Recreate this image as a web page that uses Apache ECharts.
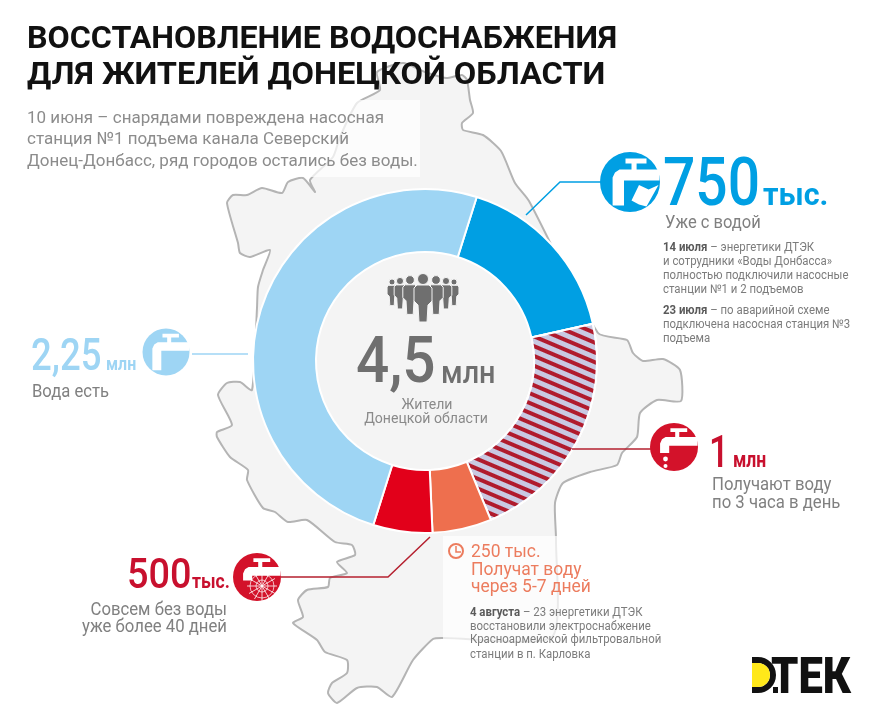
<!DOCTYPE html>
<html>
<head>
<meta charset="utf-8">
<script src="https://cdn.jsdelivr.net/npm/echarts@6/dist/echarts.min.js"></script>
<style>
html, body { margin: 0; padding: 0; background: #fff; }
#main { width: 869px; height: 714px; }
</style>
</head>
<body>
<div id="main"></div>
<script>
var sliceNames = ['Уже с водой', 'Получают воду по 3 часа в день', 'Получат воду через 5-7 дней', 'Совсем без воды', 'Вода есть'];
var sliceValues = [750, 1000, 250, 250, 2250];
var sliceColors = ['#009fe3', '#c9c9e2', '#ee6f4e', '#e2001a', '#9ed5f4'];

var titleLines = ['ВОССТАНОВЛЕНИЕ ВОДОСНАБЖЕНИЯ', 'ДЛЯ ЖИТЕЛЕЙ ДОНЕЦКОЙ ОБЛАСТИ'];
var introLines = ['10 июня – снарядами повреждена насосная', 'станция №1 подъема канала Северский', 'Донец-Донбасс, ряд городов остались без воды.'];
var noteJuly14 = ['{b|14 июля} – энергетики ДТЭК', 'и сотрудники «Воды Донбасса»', 'полностью подключили насосные', 'станции №1 и 2 подъемов'];
var noteJuly23 = ['{b|23 июля} – по аварийной схеме', 'подключена насосная станция №3', 'подъема'];
var noteAugust = ['{b|4 августа} – 23 энергетики ДТЭК', 'восстановили электроснабжение', 'Красноармейской фильтровальной', 'станции в п. Карловка'];
var orangeLines = ['250 тыс.', 'Получат воду', 'через 5-7 дней'];

var FONT = 'Roboto';
var BLUE = '#009fe3', SKY = '#9ed5f4', RED = '#c8102e', ORANGE = '#ec7c5e', GREY = '#808080', NOTE = '#7c7c7c';
var noteStyle = { scaleX: 0.95, rich: { b: { fontFamily: FONT, fontSize: 12, fontWeight: 700, fill: '#5a5a5a' } } };

function label(x, y, str, size, color, weight, align, extra) {
    var el = {
        type: 'text', x: x, y: y - size * 0.25, z: 20, silent: true,
        style: {
            text: str, fontFamily: FONT, fontSize: size, fontWeight: weight || 400,
            fill: color, textAlign: align || 'left', textVerticalAlign: 'middle'
        }
    };
    if (extra && extra.rich) el.style.rich = extra.rich;
    if (extra && extra.scaleX) el.scaleX = extra.scaleX;
    return el;
}
function lines(x, ys, strs, size, color, weight, align, extra) {
    return strs.map(function (s, i) { return label(x, ys[i], s, size, color, weight, align, extra); });
}
function leader(points, color) {
    return { type: 'polyline', z: 5, silent: true, shape: { points: points }, style: { stroke: color, lineWidth: 1.5, fill: null } };
}
// shape given in units of the icon radius
function glyph(cx, cy, r, pts, fill) {
    return {
        type: 'polygon', z: 11, silent: true,
        shape: { points: pts.map(function (p) { return [cx + p[0] * r, cy + p[1] * r]; }) },
        style: { fill: fill }
    };
}
function faucet(cx, cy, r, color, spoutEnd) {
    var pts = [[-0.15, -0.78], [0.55, -0.78], [0.55, -0.62], [0.22, -0.62], [0.22, -0.42], [0.98, -0.42], [0.98, -0.05],
        [-0.2, -0.05], [-0.2, spoutEnd], [-0.58, spoutEnd], [-0.58, -0.15], [-0.5, -0.32], [-0.35, -0.42], [0.05, -0.42], [0.05, -0.62], [-0.15, -0.62]];
    return [
        { type: 'circle', z: 10, silent: true, shape: { cx: cx, cy: cy, r: r }, style: { fill: color } },
        glyph(cx, cy, r, pts, '#fff')
    ];
}
function dot(cx, cy, r, fill) {
    return { type: 'circle', z: 12, silent: true, shape: { cx: cx, cy: cy, r: r }, style: { fill: fill } };
}
function web(cx, cy, r) {
    var out = [];
    for (var a = 0; a < 180; a += 30) {
        var dx = Math.cos(a * Math.PI / 180) * r, dy = Math.sin(a * Math.PI / 180) * r;
        out.push({ type: 'line', z: 12, silent: true, shape: { x1: cx - dx, y1: cy - dy, x2: cx + dx, y2: cy + dy }, style: { stroke: '#fff', lineWidth: 0.8 } });
    }
    [0.4, 0.8].forEach(function (k) {
        out.push({ type: 'circle', z: 12, silent: true, shape: { cx: cx, cy: cy, r: r * k }, style: { fill: 'none', stroke: '#fff', lineWidth: 0.7 } });
    });
    return out;
}

// region outline, drawn behind the ring
var outline = [[467,80],[470,100],[473,113],[462,123],[463,130],[483,135],[501,151],[515,183],[529,201],
    [598,333],[627,340],[633,353],[643,361],[663,359],[680,370],[681,401],[657,400],[640,413],[637,437],[622,453],
    [617,465],[590,472],[563,483],[555,503],[556,540],[552,637],[443,638],[433,639],[413,660],[392,697],[377,687],
    [357,688],[337,703],[328,693],[332,683],[347,673],[347,660],[325,652],[317,640],[293,623],[303,617],[298,600],
    [307,590],[328,587],[330,578],[347,573],[337,562],[355,555],[352,545],[335,542],[307,520],[288,522],[275,512],
    [263,508],[247,480],[248,470],[230,457],[217,437],[217,432],[232,425],[218,395],[227,383],[240,382],[252,390],
    [257,308],[258,287],[263,270],[270,250],[250,257],[240,253],[238,243],[227,203],[233,195],[247,195],[262,188],
    [282,193],[288,182],[303,178],[315,192],[310,180],[333,157],[340,137],[357,103],[380,90],[377,72],[403,63],
    [425,72],[446,78],[462,75]];

var graphics = [
    { type: 'polygon', z: 0, silent: true, shape: { points: outline, smooth: 0.2 }, style: { fill: '#f4f4f4', stroke: '#b4b4b4', lineWidth: 2 } },
    { type: 'rect', z: 1, silent: true, shape: { x: 20, y: 100, width: 400, height: 77 }, style: { fill: 'rgba(255,255,255,0.72)' } },
    { type: 'rect', z: 1, silent: true, shape: { x: 443, y: 536, width: 230, height: 130 }, style: { fill: 'rgba(255,255,255,0.72)' } },
    leader([[604, 182], [560, 182], [526, 215]], BLUE),
    leader([[192, 354], [248, 354]], SKY),
    leader([[572, 449], [652, 449]], '#b5202f'),
    leader([[281, 577], [388, 577], [430, 537]], '#b5202f')
];

graphics = graphics.concat(
    label(27, 48, titleLines[0], 32.2, '#111', 700),
    label(27, 84, titleLines[1], 32.2, '#111', 700, 'left', { scaleX: 1.012 }),
    lines(27, [123, 144, 166], introLines, 17, '#8c8c8c', 400),

    // 750 тыс.
    faucet(630, 182, 30, BLUE, 0.78),
    [glyph(630, 182, 30, [[0.05, 0.62], [0.3, 0.1], [0.62, 0.25], [0.95, 0.1], [0.55, 0.82], [0.3, 0.75]], '#fff')],
    [label(663, 205, '750', 67, BLUE, 500, 'left', { scaleX: 0.85 }), label(763, 205, 'тыс.', 32, BLUE, 700, 'left', { scaleX: 0.95 }),
     label(665, 228, sliceNames[0], 19, GREY, 400, 'left', { scaleX: 0.87 })],
    lines(663, [251, 265, 279, 293], noteJuly14, 12, NOTE, 400, 'left', noteStyle),
    lines(663, [314, 328, 342], noteJuly23, 12, NOTE, 400, 'left', noteStyle),

    // 2,25 млн
    faucet(166, 352, 23.5, SKY, 0.78),
    [label(31, 370, '2,25', 44, SKY, 500, 'left', { scaleX: 0.83 }), label(106, 370, 'млн', 19, SKY, 700, 'left', { scaleX: 0.84 }),
     label(32, 397, sliceNames[4], 19, GREY, 400, 'left', { scaleX: 0.875 })],

    // 1 млн
    faucet(674, 447, 24, '#d3122a', 0.25),
    [dot(665.5, 459, 2.4, '#fff'), dot(665.5, 466, 2, '#fff')],
    [label(709, 467, '1', 44, RED, 500, 'left', { scaleX: 0.8 }), label(733, 467, 'млн', 22, RED, 700, 'left', { scaleX: 0.8 }),
     lines(712, [490, 508], ['Получают воду', 'по 3 часа в день'], 19, GREY, 400, 'left', { scaleX: 0.88 })[0],
     lines(712, [490, 508], ['Получают воду', 'по 3 часа в день'], 19, GREY, 400, 'left', { scaleX: 0.88 })[1]],

    // 500 тыс.
    faucet(257, 577, 24, '#d3122a', 0.15),
    web(262, 586, 15),
    [label(127, 588, '500', 42, RED, 500, 'left', { scaleX: 0.9 }), label(192, 588, 'тыс.', 20, RED, 700, 'left', { scaleX: 0.88 }),
     label(227, 615, 'Совсем без воды', 19, GREY, 400, 'right', { scaleX: 0.88 }), label(227, 632, 'уже более 40 дней', 19, GREY, 400, 'right', { scaleX: 0.88 })],

    // 250 тыс.
    [{ type: 'circle', z: 12, silent: true, shape: { cx: 456, cy: 551, r: 7 }, style: { fill: 'none', stroke: ORANGE, lineWidth: 2 } },
     { type: 'polyline', z: 12, silent: true, shape: { points: [[456, 546], [456, 552], [461, 552]] }, style: { fill: null, stroke: ORANGE, lineWidth: 1.5 } }],
    lines(471, [557, 575, 592], orangeLines, 19, ORANGE, 400, 'left', { scaleX: 0.92 }),
    lines(470, [616, 630, 643, 658], noteAugust, 12, NOTE, 400, 'left', noteStyle),

    // centre
    [label(356, 382, '4,5', 65, '#6f6f6f', 500, 'left', { scaleX: 0.9 }), label(441, 383, 'млн', 32, '#6f6f6f', 500, 'left', { scaleX: 0.9 }),
     label(427, 409, 'Жители', 15, '#8a8a8a', 400, 'center', { scaleX: 0.94 }), label(426, 423, 'Донецкой области', 15, '#8a8a8a', 400, 'center', { scaleX: 0.94 })],

    // logo
    [{ type: 'sector', z: 12, silent: true, shape: { cx: 758, cy: 675, r: 18, r0: 12, startAngle: -Math.PI / 2, endAngle: Math.PI / 2 }, style: { fill: '#111' } },
     { type: 'sector', z: 12, silent: true, shape: { cx: 758, cy: 675, r: 12, r0: 0, startAngle: -Math.PI / 2, endAngle: Math.PI / 2 }, style: { fill: '#ffe81a' } },
     { type: 'rect', z: 12, silent: true, shape: { x: 752, y: 663, width: 6, height: 24 }, style: { fill: '#ffe81a' } },
     { type: 'rect', z: 12, silent: true, shape: { x: 752, y: 657, width: 6, height: 6 }, style: { fill: '#111' } },
     { type: 'rect', z: 12, silent: true, shape: { x: 752, y: 687, width: 6, height: 6 }, style: { fill: '#111' } },
     { type: 'rect', z: 12, silent: true, shape: { x: 773, y: 687, width: 5, height: 6 }, style: { fill: '#111' } },
     label(771, 693, 'ТЕК', 50, '#111', 900, 'left', { scaleX: 0.87 })]
);

// crowd above the total
[[-31, 3, 0.55], [31, 3, 0.55], [-23, 2, 0.65], [23, 2, 0.65], [-13, 1, 0.8], [13, 1, 0.8], [0, 0, 1]].forEach(function (p) {
    var x = 423 + p[0], y = 279 + p[1], s = p[2];
    graphics.push({ type: 'circle', z: 12, silent: true, shape: { cx: x, cy: y, r: 5.5 * s }, style: { fill: '#6f6f6f', stroke: '#f4f4f4', lineWidth: 1 } });
    graphics.push({
        type: 'polygon', z: 12, silent: true,
        shape: { points: [[x - 6 * s, y + 6 * s], [x + 6 * s, y + 6 * s], [x + 9 * s, y + 9 * s], [x + 9 * s, y + 22 * s], [x + 5 * s, y + 26 * s], [x + 4 * s, y + 43 * s], [x - 4 * s, y + 43 * s], [x - 5 * s, y + 26 * s], [x - 9 * s, y + 22 * s], [x - 9 * s, y + 9 * s]] },
        style: { fill: '#6f6f6f', stroke: '#f4f4f4', lineWidth: 1 }
    });
});

var pieData = sliceNames.map(function (name, i) {
    var item = { name: name, value: sliceValues[i], itemStyle: { color: sliceColors[i] } };
    if (i === 1) {
        item.itemStyle.decal = {
            symbol: 'rect', color: '#b01b2d', dashArrayX: [1, 0], dashArrayY: [4, 5],
            rotation: Math.PI * 23 / 180, symbolSize: 1
        };
    }
    return item;
});

var myChart = echarts.init(document.getElementById('main'), null, { renderer: 'canvas' });
myChart.setOption({
    animation: false,
    backgroundColor: '#fff',
    graphic: { elements: graphics },
    series: [{
        type: 'pie',
        silent: true,
        z: 3,
        center: [425, 361],
        radius: [109, 172],
        startAngle: 72.5,
        clockwise: true,
        label: { show: false },
        labelLine: { show: false },
        itemStyle: { borderColor: '#fff', borderWidth: 2 },
        data: pieData
    }]
});
</script>
</body>
</html>
